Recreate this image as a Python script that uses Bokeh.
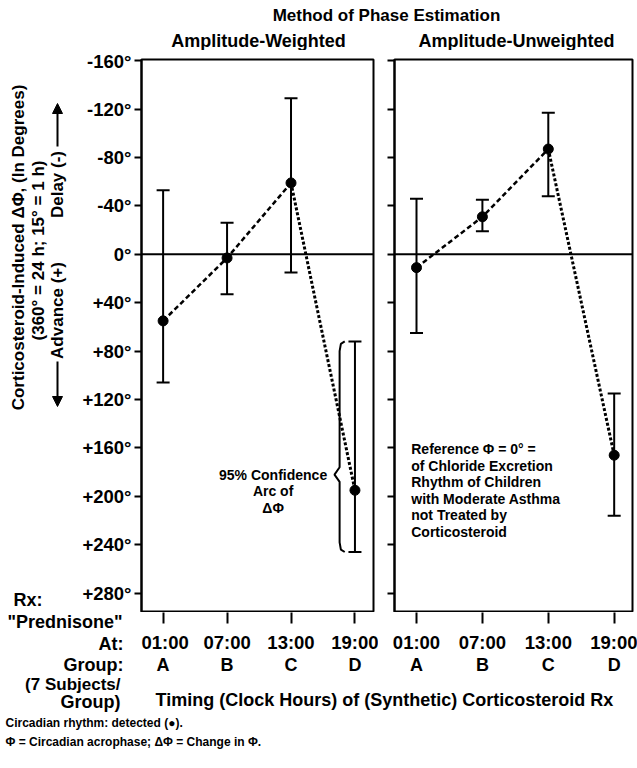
import math
from bokeh.plotting import figure
from bokeh.models import (Range1d, FixedTicker, Whisker, TeeHead, Span, Label,
                          Arrow, NormalHead, ColumnDataSource)
from bokeh.layouts import column, row
from bokeh.embed import file_html
from bokeh.resources import INLINE

# ---------------- data ----------------
clock_hours = ["01:00", "07:00", "13:00", "19:00"]
groups = ["A", "B", "C", "D"]
group_pos = [0, 1, 2, 3]

weighted_phase = [55, 3, -59, 195]
weighted_delay_limit = [-53, -26, -129, 72]
weighted_advance_limit = [106, 33, 15, 246]

unweighted_phase = [11, -31, -87, 166]
unweighted_delay_limit = [-46, -45, -117, 115]
unweighted_advance_limit = [65, -19, -48, 216]

y_ticks = [-160, -120, -80, -40, 0, 40, 80, 120, 160, 200, 240, 280]
y_tick_labels = ["-160°", "-120°", "-80°", "-40°", "0°", "+40°", "+80°",
                 "+120°", "+160°", "+200°", "+240°", "+280°"]

reference_note = ["Reference \u03a6 = 0\u00b0 =", "of Chloride Excretion",
                  "Rhythm of Children", "with Moderate Asthma",
                  "not Treated by", "Corticosteroid"]
ci_note = ["95% Confidence", "Arc of", "\u0394\u03a6"]

FONT = "Liberation Sans"

# ---------------- page geometry (px) ----------------
TOP_H = 50
MID_TOP, MID_BOT = 50, 612          # middle row
AX_H = 44                            # axis row 612..656
BOT_TOP, BOT_H = 656, 110            # bottom row 656..766
FRAME_TOP = 59
Y_RANGE = (296, -161)
P1_FL, P1_FW, P1_X = 141, 232, (-0.338, 3.29)
P2_FL, P2_FW, P2_X = 394, 238, (-0.334, 3.278)


def no_align(f):
    try:
        f.frame_align = False
    except Exception:
        pass


def blank(w, h):
    f = figure(width=w, height=h, x_range=Range1d(0, 1), y_range=Range1d(0, 1),
               x_axis_type=None, y_axis_type=None, toolbar_location=None,
               output_backend="svg", title=None, min_border_left=0,
               min_border_right=0, min_border_top=0, min_border_bottom=0)
    f.outline_line_color = None
    f.xgrid.visible = False
    f.ygrid.visible = False
    f.background_fill_color = "white"
    f.border_fill_color = "white"
    no_align(f)
    return f


def add_text(f, left, bottom, X, Y, text, size, align="left", angle=0.0):
    f.add_layout(Label(x=X - left, y=bottom - Y, x_units="screen", y_units="screen",
                       text=text, text_font=FONT, text_font_style="bold",
                       text_font_size=size, text_align=align,
                       text_baseline="middle", angle=angle, text_color="black"))


def make_panel(width, border_left, xr, show_labels):
    p = figure(width=width, height=MID_BOT - MID_TOP,
               x_range=Range1d(*xr), y_range=Range1d(*Y_RANGE),
               x_axis_location=None,
               min_border_left=border_left, min_border_right=5,
               min_border_top=FRAME_TOP - MID_TOP, min_border_bottom=0,
               toolbar_location=None, output_backend="svg", title=None)
    p.ygrid.visible = False
    p.xgrid.visible = False
    p.outline_line_color = "black"
    p.outline_line_width = 2
    p.outline_line_alpha = 1
    p.background_fill_color = "white"
    p.border_fill_color = "white"

    ya = p.yaxis[0]
    ya.axis_line_width = 2
    ya.major_label_text_font = FONT
    ya.major_label_text_font_style = "bold"
    ya.major_label_text_color = "black"
    ya.major_label_text_font_size = "18.5px"
    ya.major_label_standoff = 3
    if show_labels:
        ya.ticker = FixedTicker(ticks=y_ticks)
        ya.major_label_overrides = {t: s for t, s in zip(y_ticks, y_tick_labels)}
        ya.major_tick_out = 7
        ya.major_tick_in = 0
        ya.major_tick_line_width = 2
        ya.minor_tick_out = 0
        ya.minor_tick_in = 0
    else:
        # tick marks only (no labels) on the right-hand panel
        ya.ticker = FixedTicker(ticks=[], minor_ticks=y_ticks)
        ya.minor_tick_out = 7
        ya.minor_tick_in = 0
        ya.minor_tick_line_width = 2
        ya.minor_tick_line_color = "black"
        ya.major_tick_out = 0
        ya.major_tick_in = 0

    p.add_layout(Span(location=0, dimension="width", line_color="black", line_width=2))
    return p


def make_xaxis_fig(width, border_left, xrange):
    f = figure(width=width, height=AX_H, x_range=xrange, y_range=Range1d(0, 1),
               y_axis_location=None, toolbar_location=None, output_backend="svg",
               title=None, min_border_left=border_left, min_border_right=5,
               min_border_top=0, min_border_bottom=AX_H - 2)
    f.outline_line_color = None
    f.xgrid.visible = False
    f.ygrid.visible = False
    f.background_fill_color = "white"
    f.border_fill_color = "white"
    xa = f.xaxis[0]
    xa.ticker = FixedTicker(ticks=group_pos)
    xa.major_label_overrides = {g: h for g, h in zip(group_pos, clock_hours)}
    xa.axis_line_color = None
    xa.major_tick_out = 9
    xa.major_tick_in = 2
    xa.minor_tick_out = 0
    xa.minor_tick_in = 0
    xa.major_tick_line_width = 2
    xa.major_tick_line_color = "black"
    xa.major_label_text_font = FONT
    xa.major_label_text_font_style = "bold"
    xa.major_label_text_font_size = "18.5px"
    xa.major_label_text_color = "black"
    xa.major_label_standoff = 8
    return f


def draw_series(p, phase, delay_lim, adv_lim):
    src = ColumnDataSource(dict(x=group_pos, y=phase, up=delay_lim, lo=adv_lim))
    p.add_layout(Whisker(source=src, base="x", upper="up", lower="lo", dimension="height",
                         line_color="black", line_width=2,
                         upper_head=TeeHead(size=13, line_width=2, line_color="black"),
                         lower_head=TeeHead(size=13, line_width=2, line_color="black")))
    p.line(group_pos[:3], phase[:3], line_color="black", line_width=2.5, line_dash="5 3")
    p.line(group_pos[2:], phase[2:], line_color="black", line_width=3, line_dash="3 2")
    p.scatter(group_pos, phase, size=10, color="black")


# ---------------- top row: titles ----------------
top = blank(637, TOP_H)
add_text(top, 0, TOP_H, 386, 15, "Method of Phase Estimation", "17px", "center")
add_text(top, 0, TOP_H, 258, 40, "Amplitude-Weighted", "18px", "center")
add_text(top, 0, TOP_H, 516, 40, "Amplitude-Unweighted", "18px", "center")

# ---------------- middle row ----------------
strip = blank(78, MID_BOT - MID_TOP)
add_text(strip, 0, MID_BOT, 18, 247, "Corticosteroid-Induced \u0394\u03a6, (In Degrees)",
         "17px", "center", math.pi / 2)
add_text(strip, 0, MID_BOT, 38, 250, "(360\u00b0 = 24 h; 15\u00b0 = 1 h)",
         "17px", "center", math.pi / 2)
add_text(strip, 0, MID_BOT, 57, 184, "Delay (-)", "17px", "center", math.pi / 2)
add_text(strip, 0, MID_BOT, 57, 310, "Advance (+)", "17px", "center", math.pi / 2)
for y0, y1 in [(146, 103), (361, 406)]:
    strip.add_layout(Arrow(x_start=57, y_start=MID_BOT - y0, x_end=57, y_end=MID_BOT - y1,
                           start_units="screen", end_units="screen", line_width=2,
                           line_color="black",
                           end=NormalHead(size=10, fill_color="black", line_color="black")))
add_text(strip, 0, MID_BOT, 13, 599, "Rx:", "18px", "left")

p1 = make_panel(300, P1_FL - 78, P1_X, True)
draw_series(p1, weighted_phase, weighted_delay_limit, weighted_advance_limit)
for i, t in enumerate(ci_note):
    p1.add_layout(Label(x=1.72, y=182 + 14 * i, text=t, text_font=FONT,
                        text_font_style="bold", text_font_size="14px",
                        text_color="black", text_align="center", text_baseline="middle"))
d_hi, d_lo = weighted_delay_limit[3], weighted_advance_limit[3]
tip = 182
bx = group_pos[3] - 0.24
p1.line([bx + 0.08, bx + 0.02, bx, bx, bx - 0.08, bx, bx, bx + 0.02, bx + 0.08],
        [d_hi, d_hi + 2, d_hi + 8, tip - 6, tip, tip + 6, d_lo - 8, d_lo - 2, d_lo],
        line_color="black", line_width=2)

p2 = make_panel(259, P2_FL - 378, P2_X, False)
draw_series(p2, unweighted_phase, unweighted_delay_limit, unweighted_advance_limit)
for i, t in enumerate(reference_note):
    p2.add_layout(Label(x=-0.08, y=161 + 13.7 * i, text=t, text_font=FONT,
                        text_font_style="bold", text_font_size="14px",
                        text_color="black", text_align="left", text_baseline="middle"))

# ---------------- axis row ----------------
corner = blank(141, AX_H)
add_text(corner, 0, MID_BOT + AX_H, 7, 621, "\"Prednisone\"", "18px", "left")
add_text(corner, 0, MID_BOT + AX_H, 123, 643, "At:", "18px", "right")
p1x = make_xaxis_fig(237, 0, p1.x_range)
p2x = make_xaxis_fig(259, P2_FL - 378, p2.x_range)

# ---------------- bottom row ----------------
bot = blank(637, BOT_H)
BB = BOT_TOP + BOT_H
add_text(bot, 0, BB, 123, 664, "Group:", "18px", "right")
for fl, fw, (xs, xe) in [(P1_FL, P1_FW, P1_X), (P2_FL, P2_FW, P2_X)]:
    for g, gp in zip(groups, group_pos):
        add_text(bot, 0, BB, fl + (gp - xs) * fw / (xe - xs), 664, g, "18px", "center")
add_text(bot, 0, BB, 120, 684, "(7 Subjects/", "17px", "right")
add_text(bot, 0, BB, 120, 701, "Group)", "18px", "right")
add_text(bot, 0, BB, 155, 699, "Timing (Clock Hours) of (Synthetic) Corticosteroid Rx", "18px", "left")
add_text(bot, 0, BB, 5, 722, "Circadian rhythm: detected (\u25cf).", "12px", "left")
add_text(bot, 0, BB, 5, 741, "\u03a6 = Circadian acrophase; \u0394\u03a6 = Change in \u03a6.", "12px", "left")

layout = column(top,
                row(strip, p1, p2, spacing=0),
                row(column(corner), p1x, p2x, spacing=0),
                bot, spacing=0)
open("out.html", "w").write(file_html(layout, INLINE))
